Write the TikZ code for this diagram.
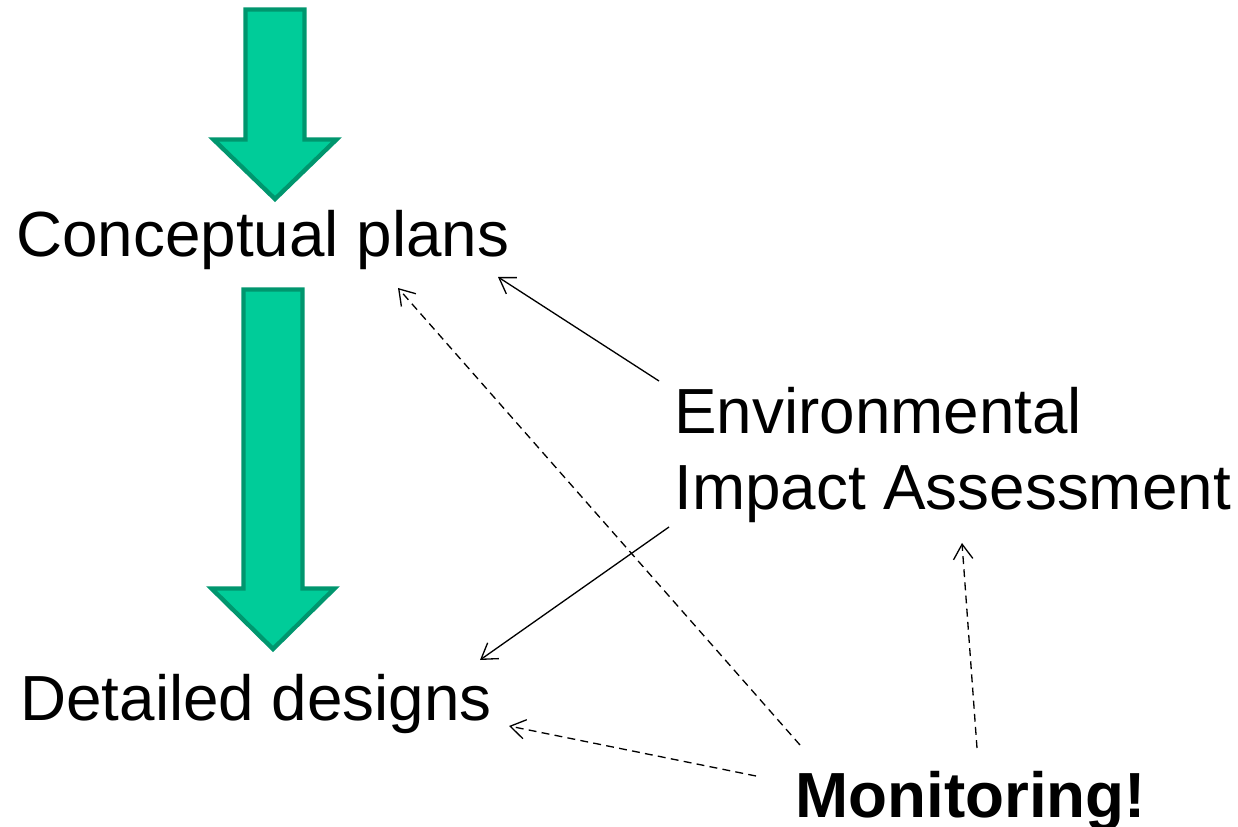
\documentclass[tikz,border=0pt]{standalone}
\usepackage{fontspec}
\setmainfont{Liberation Sans}
\usepackage{xcolor}
\usetikzlibrary{arrows.meta, positioning, calc}
\definecolor{stagefill}{RGB}{0,204,153}
\definecolor{stageedge}{RGB}{0,150,110}

\begin{document}
\begin{tikzpicture}[x=0.02cm, y=-0.02cm,
    >={Straight Barb[length=8.5pt,width=11pt]},
    stagetext/.style={anchor=base west, inner sep=0, font=\fontsize{36.3}{43.7}\selectfont},
    link/.style={->, line width=0.75pt},
    hint/.style={link, dash pattern=on 4.5pt off 3pt},
    stagearrow/.style={fill=stagefill, draw=stageedge, line width=2.5pt, line join=miter}]
    \useasboundingbox (0,0) rectangle (1238,827);

    % the two big down arrows
    \draw [stagearrow] (245.5,9.5) -- (304.5,9.5) -- (304.5,139.5) -- (336.5,139.5)
      -- (275,199) -- (213.5,139.5) -- (245.5,139.5) -- cycle;
    \draw [stagearrow] (243.5,289.5) -- (302.5,289.5) -- (302.5,588.5) -- (334.5,588.5)
      -- (273,649) -- (211.5,588.5) -- (243.5,588.5) -- cycle;

    \node (plans) [stagetext] at (16,257) {Conceptual plans};
    \node (designs) [stagetext] at (20,720) {Detailed designs};
    \node (eia) [stagetext, align=left] at (674,510) {Environmental\\Impact Assessment};
    \node (monitor) [stagetext, font=\fontsize{36.3}{43.7}\selectfont\bfseries] at (795,817) {Monitoring!};

    % assessment feeds back into both stages
    \draw [link] ([shift={(-15,-129)}]eia.base west) -- ([shift={(482,20)}]plans.base west);
    \draw [link] ([shift={(-5,17)}]eia.base west) -- ([shift={(460,-60)}]designs.base west);

    % monitoring
    \draw [hint] ([shift={(5,-72)}]monitor.base west) -- ([shift={(382,31)}]plans.base west);
    \draw [hint] ([shift={(-39,-41)}]monitor.base west) -- ([shift={(489,6)}]designs.base west);
    \draw [hint] ([shift={(182,-69)}]monitor.base west) -- ([shift={(288,33)}]eia.base west);
\end{tikzpicture}
\end{document}
